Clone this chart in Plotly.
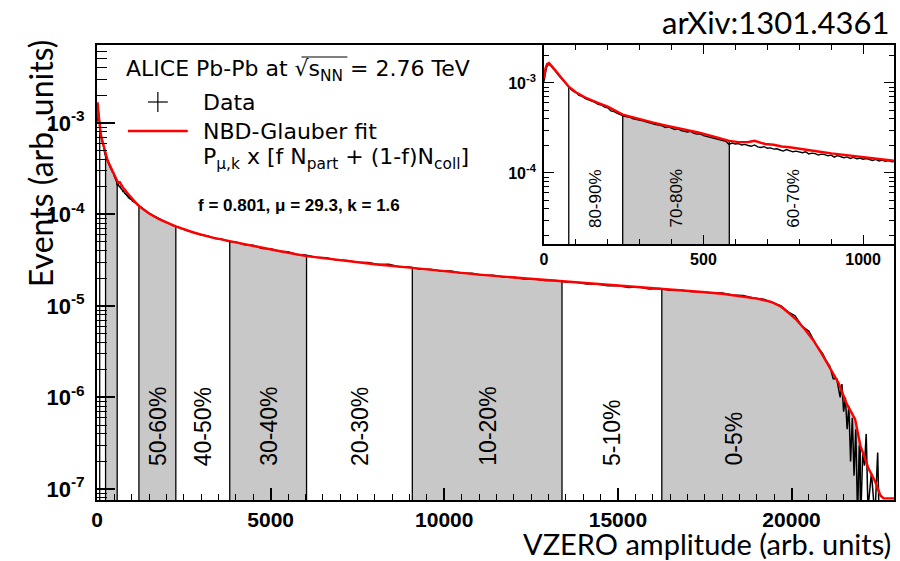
import plotly.graph_objects as go

# ---------------- data ----------------
data_x = [0, 4, 8, 12, 16, 20, 26, 32, 38, 44, 50, 56, 62, 70, 78, 86, 94, 102, 110, 120,
          130, 140, 150, 160, 170, 180, 190, 200, 210, 220, 230, 240, 250, 260, 270, 280,
          290, 300, 310, 320, 330, 340, 350, 360, 370, 380, 390, 400, 410, 420, 430, 440,
          450, 460, 470, 480, 490, 500, 510, 520, 530, 540, 550, 560, 570, 580, 590, 600,
          610, 620, 630, 640, 650, 660, 670, 680, 690, 700, 710, 720, 730, 740, 750, 760,
          770, 780, 790, 800, 810, 820, 830, 840, 850, 860, 870, 880, 890, 900, 910, 920,
          930, 940, 950, 960, 970, 980, 990, 1000, 1010, 1020, 1030, 1040, 1050, 1060, 1070,
          1080, 1090, 1100,
          1150, 1300, 1450, 1600, 1750, 1900, 2050, 2200, 2400, 2600, 2800, 3000, 3200, 3400,
          3600, 3800, 4000, 4250, 4500, 4750, 5000, 5250, 5500, 5750, 6000, 6300, 6600, 6900,
          7200, 7500, 7800, 8100, 8400, 8700, 9000, 9300, 9600, 9900, 10200, 10500, 10800,
          11100, 11400, 11700, 12000, 12300, 12600, 12900, 13200, 13500, 13800, 14100, 14400,
          14700, 15000, 15300, 15600, 15900, 16200, 16500, 16800, 17100, 17400, 17700, 18000,
          18300, 18600, 18900, 19200, 19500, 19700, 19900, 20100, 20300, 20500, 20700, 20900,
          21000, 21100, 21200, 21300, 21400, 21450, 21500, 21550, 21600, 21650, 21700, 21750,
          21800, 21850, 21900, 21950, 22000, 22050, 22100, 22150, 22200, 22300, 22400, 22480,
          22520]
data_y = [1.03e-3, 1.30e-3, 1.48e-3, 1.58e-3, 1.62e-3, 1.58e-3, 1.50e-3, 1.41e-3, 1.33e-3,
          1.24e-3, 1.17e-3, 1.12e-3, 1.05e-3, 9.7e-4, 8.9e-4, 8.4e-4, 8.0e-4, 7.8e-4, 7.3e-4,
          7.1e-4, 6.7e-4, 6.5e-4, 6.2e-4, 6.1e-4, 5.8e-4, 5.7e-4, 5.4e-4, 5.3e-4, 4.9e-4,
          4.8e-4, 4.6e-4, 4.4e-4, 4.3e-4, 4.2e-4, 4.15e-4, 4.0e-4, 3.95e-4, 3.85e-4, 3.8e-4,
          3.7e-4, 3.6e-4, 3.55e-4, 3.45e-4, 3.4e-4, 3.35e-4, 3.2e-4, 3.25e-4, 3.15e-4, 3.05e-4,
          3.1e-4, 2.95e-4, 2.9e-4, 2.85e-4, 2.9e-4, 2.75e-4, 2.7e-4, 2.72e-4, 2.6e-4, 2.55e-4,
          2.5e-4, 2.45e-4, 2.4e-4, 2.38e-4, 2.3e-4, 2.25e-4, 2.08e-4, 2.15e-4, 2.1e-4, 2.12e-4,
          2.05e-4, 2.08e-4, 2.02e-4, 1.98e-4, 2.05e-4, 1.95e-4, 1.92e-4, 1.96e-4, 1.88e-4,
          1.9e-4, 1.84e-4, 1.86e-4, 1.8e-4, 1.75e-4, 1.82e-4, 1.76e-4, 1.72e-4, 1.75e-4, 1.7e-4,
          1.68e-4, 1.72e-4, 1.63e-4, 1.66e-4, 1.64e-4, 1.58e-4, 1.62e-4, 1.6e-4, 1.55e-4,
          1.58e-4, 1.5e-4, 1.56e-4, 1.52e-4, 1.48e-4, 1.51e-4, 1.45e-4, 1.49e-4, 1.44e-4,
          1.46e-4, 1.42e-4, 1.45e-4, 1.4e-4, 1.38e-4, 1.42e-4, 1.36e-4, 1.39e-4, 1.35e-4,
          1.37e-4, 1.33e-4, 1.35e-4,
          1.30e-4, 1.17e-4, 1.06e-4, 9.8e-5, 9.2e-5, 8.5e-5, 8.1e-5, 7.5e-5, 7.1e-5, 6.6e-5,
          6.35e-5, 5.95e-5, 5.8e-5, 5.45e-5, 5.35e-5, 5.05e-5, 5.0e-5, 4.65e-5, 4.6e-5, 4.25e-5,
          4.2e-5, 3.95e-5, 3.9e-5, 3.65e-5, 3.6e-5, 3.4e-5, 3.35e-5, 3.18e-5, 3.14e-5, 3.0e-5,
          2.98e-5, 2.84e-5, 2.85e-5, 2.68e-5, 2.66e-5, 2.52e-5, 2.52e-5, 2.4e-5, 2.4e-5, 2.27e-5,
          2.27e-5, 2.16e-5, 2.16e-5, 2.07e-5, 2.05e-5, 1.97e-5, 1.97e-5, 1.89e-5, 1.9e-5,
          1.82e-5, 1.81e-5, 1.73e-5, 1.74e-5, 1.66e-5, 1.67e-5, 1.59e-5, 1.61e-5, 1.53e-5,
          1.55e-5, 1.48e-5, 1.49e-5, 1.44e-5, 1.43e-5, 1.38e-5, 1.38e-5, 1.32e-5, 1.3e-5,
          1.22e-5, 1.18e-5, 1.06e-5, 1.0e-5, 8.6e-6, 7.8e-6, 6.0e-6, 5.3e-6, 3.8e-6, 3.0e-6,
          2.5e-6, 2.2e-6, 1.6e-6, 1.6e-6, 1.0e-6, 1.4e-6, 7e-7, 1.0e-6, 4.5e-7, 8e-7, 2.0e-7,
          6e-7, 1.4e-7, 4.5e-7, 5e-8, 3e-7, 6e-8, 2.5e-7, 1.8e-7, 4e-7, 6e-8, 1.5e-7, 5e-8,
          2.5e-7, 5e-8]

fit_x = [0, 5, 10, 16, 26, 42, 62, 78, 100, 130, 169, 200, 247, 300, 340, 380, 432, 484, 536,
         581, 610, 641, 660, 693, 720, 745, 770, 797, 820, 849, 875, 901, 930, 953, 980, 1005,
         1030, 1060, 1100, 1207, 1500, 1800, 2270, 2800, 3300, 3822, 4500, 5200, 6034, 7000,
         8000, 9080, 10000, 11000, 12200, 13390, 14500, 15400, 16264, 17000, 17520, 18000,
         18477, 19000, 19435, 19700, 19914, 20150, 20393, 20630, 20871, 21100, 21350, 21590,
         21830, 21980, 22100, 22210, 22410, 22560, 22650, 22950]
fit_y = [1.12e-3, 1.45e-3, 1.62e-3, 1.67e-3, 1.52e-3, 1.29e-3, 1.06e-3, 9.1e-4, 7.9e-4,
         6.9e-4, 6.0e-4, 5.45e-4, 4.45e-4, 3.95e-4, 3.65e-4, 3.38e-4, 3.08e-4, 2.82e-4,
         2.52e-4, 2.27e-4, 2.2e-4, 2.21e-4, 2.28e-4, 2.1e-4, 2.06e-4, 1.97e-4, 1.93e-4,
         1.86e-4, 1.82e-4, 1.75e-4, 1.7e-4, 1.65e-4, 1.6e-4, 1.57e-4, 1.53e-4, 1.49e-4,
         1.46e-4, 1.42e-4, 1.36e-4, 1.23e-4, 1.02e-4, 8.8e-5, 7.4e-5, 6.3e-5, 5.6e-5, 5.1e-5,
         4.5e-5, 4.0e-5, 3.5e-5, 3.15e-5, 2.85e-5, 2.6e-5, 2.4e-5, 2.2e-5, 2.02e-5, 1.87e-5,
         1.72e-5, 1.62e-5, 1.53e-5, 1.46e-5, 1.41e-5, 1.36e-5, 1.29e-5, 1.2e-5, 1.1e-5,
         9.8e-6, 8.4e-6, 7.0e-6, 5.5e-6, 4.2e-6, 3.0e-6, 2.1e-6, 1.45e-6, 8.5e-7, 5.8e-7,
         3.0e-7, 2.2e-7, 1.7e-7, 1.2e-7, 8.5e-8, 7.9e-8, 7.9e-8]

boundaries = [78, 247, 581, 1207, 2270, 3822, 6034, 9080, 13390, 16264, 21980]
gray_bands = [(247, 581), (1207, 2270), (3822, 6034), (9080, 13390), (16264, 21980)]

main_labels = ["50-60%", "40-50%", "30-40%", "20-30%", "10-20%", "5-10%", "0-5%"]
main_label_x = [1740, 3046, 4930, 7560, 11235, 14830, 18330]
inset_labels = ["80-90%", "70-80%", "60-70%"]
inset_label_x = [162, 414, 781]

main_xrange = [0, 22950]
main_yrange = [-7.12, -2.15]      # log10
inset_xrange = [0, 1097]
inset_yrange = [-4.789, -2.578]   # log10

decades_main = [1e-7, 1e-6, 1e-5, 1e-4, 1e-3]
decade_text_main = ["10<sup>-7</sup>", "10<sup>-6</sup>", "10<sup>-5</sup>",
                    "10<sup>-4</sup>", "10<sup>-3</sup>"]
decades_inset = [1e-4, 1e-3]
decade_text_inset = ["10<sup>-4</sup>", "10<sup>-3</sup>"]

# ---------------- geometry helpers (layout only) ----------------
W, H = 900, 561
L, R, T, B = 97, 896, 45, 500


def pxx(px):
    return (px - L) / (R - L)


def pxy(py):
    return (B - py) / (B - T)


minor_main = [m * 10.0 ** e for e in range(-8, -1) for m in range(2, 10)]
minor_inset = [m * 10.0 ** e for e in range(-5, -1) for m in range(2, 10)]

GRAY = "#c8c8c8"
fig = go.Figure()


def add_bands(xa, ya, ybot, bands, bnds):
    for (x0, x1) in bands:
        pts = [(x, y) for x, y in zip(fit_x, fit_y) if x0 <= x <= x1]
        xs = [p[0] for p in pts] + [x1, x0]
        ys = [p[1] for p in pts] + [ybot, ybot]
        fig.add_trace(go.Scatter(x=xs, y=ys, fill="toself", fillcolor=GRAY, mode="lines",
                                 line=dict(width=0), hoverinfo="skip", showlegend=False,
                                 xaxis=xa, yaxis=ya))
    bx, by = [], []
    for b in bnds:
        bx += [b, b, None]
        by += [ybot, fit_y[fit_x.index(b)], None]
    fig.add_trace(go.Scatter(x=bx, y=by, mode="lines", line=dict(color="black", width=1.3),
                             hoverinfo="skip", showlegend=False, xaxis=xa, yaxis=ya))


# main plot
ybot_main = 10 ** (main_yrange[0] - 1)
add_bands("x", "y", ybot_main, gray_bands, boundaries)
fig.add_trace(go.Scatter(x=data_x, y=data_y, mode="lines", line=dict(color="black", width=1.5),
                         showlegend=False, xaxis="x", yaxis="y"))
fig.add_trace(go.Scatter(x=fit_x, y=fit_y, mode="lines", line=dict(color="#ff0000", width=2.4),
                         showlegend=False, xaxis="x", yaxis="y"))

# inset: white cover, bands, curves
fig.add_trace(go.Scatter(x=[inset_xrange[0], inset_xrange[1], inset_xrange[1], inset_xrange[0]],
                         y=[10 ** inset_yrange[0], 10 ** inset_yrange[0], 10 ** inset_yrange[1], 10 ** inset_yrange[1]],
                         fill="toself", fillcolor="white", mode="lines", line=dict(width=0),
                         hoverinfo="skip", showlegend=False, xaxis="x2", yaxis="y2"))
ybot_inset = 10 ** (inset_yrange[0] - 1)
add_bands("x2", "y2", ybot_inset, [gray_bands[0]], boundaries[:4])
fig.add_trace(go.Scatter(x=data_x, y=data_y, mode="lines", line=dict(color="black", width=1.4),
                         showlegend=False, xaxis="x2", yaxis="y2"))
fig.add_trace(go.Scatter(x=fit_x, y=fit_y, mode="lines", line=dict(color="#ff0000", width=2.4),
                         showlegend=False, xaxis="x2", yaxis="y2"))

tick_font = dict(family="Liberation Sans, Arial", size=21, color="black", weight="bold")
tick_font_small = dict(family="Liberation Sans, Arial", size=16, color="black", weight="bold")

inset_x0 = pxx(545)
inset_y0 = pxy(244)
part_x = pxx(505)
part_y = pxy(280)

fig.update_layout(
    width=W, height=H, autosize=False,
    margin=dict(l=L, r=W - R, t=T, b=H - B),
    paper_bgcolor="white", plot_bgcolor="rgba(0,0,0,0)",
    showlegend=False,
    xaxis=dict(domain=[0, 1], anchor="y", range=main_xrange, showgrid=False, zeroline=False,
               showline=True, linecolor="black", linewidth=2, mirror=True,
               ticks="inside", ticklen=12, tickwidth=1.5, tickcolor="black", dtick=5000, tick0=0,
               tickformat="d",
               minor=dict(ticks="inside", ticklen=6, tickwidth=1.2, tickcolor="black", dtick=500),
               tickfont=tick_font, ticklabelstandoff=0),
    yaxis=dict(domain=[0, 1], anchor="x", type="log", range=main_yrange, showgrid=False, zeroline=False,
               showline=True, linecolor="black", linewidth=2, mirror=True,
               ticks="inside", ticklen=18, tickwidth=1.5, tickcolor="black",
               tickmode="array", tickvals=decades_main, ticktext=decade_text_main,
               minor=dict(ticks="inside", ticklen=10, tickwidth=1.2, tickcolor="black",
                          tickmode="array", tickvals=minor_main),
               tickfont=dict(family="Liberation Sans, Arial", size=22, color="black", weight="bold"),
               ticklabelstandoff=6),
    xaxis2=dict(domain=[inset_x0, 1], anchor="y2", range=inset_xrange, showgrid=False, zeroline=False,
                showline=True, linecolor="black", linewidth=1.6, mirror="allticks",
                ticks="inside", ticklen=9, tickwidth=1.2, tickcolor="black", dtick=500, tick0=0,
                tickformat="d",
                minor=dict(ticks="inside", ticklen=5, tickwidth=1, tickcolor="black", dtick=100),
                tickfont=tick_font_small, ticklabelstandoff=0),
    yaxis2=dict(domain=[inset_y0, 1], anchor="x2", type="log", range=inset_yrange, showgrid=False,
                zeroline=False, showline=True, linecolor="black", linewidth=1.6, mirror="allticks",
                ticks="inside", ticklen=10, tickwidth=1.2, tickcolor="black",
                tickmode="array", tickvals=decades_inset, ticktext=decade_text_inset,
                minor=dict(ticks="inside", ticklen=5, tickwidth=1, tickcolor="black",
                           tickmode="array", tickvals=minor_inset),
                tickfont=tick_font_small, ticklabelstandoff=3),
    xaxis3=dict(domain=[0, part_x], anchor="y", side="top", range=[0, main_xrange[1] * part_x],
                showgrid=False, zeroline=False, showline=False, showticklabels=False,
                ticks="inside", ticklen=12, tickwidth=1.5, tickcolor="black", dtick=5000, tick0=0,
                minor=dict(ticks="inside", ticklen=6, tickwidth=1.2, tickcolor="black", dtick=500)),
    yaxis3=dict(domain=[0, part_y], anchor="x", side="right", type="log",
                range=[main_yrange[0], main_yrange[0] + part_y * (main_yrange[1] - main_yrange[0])],
                showgrid=False, zeroline=False, showline=False, showticklabels=False,
                ticks="inside", ticklen=18, tickwidth=1.5, tickcolor="black",
                tickmode="array", tickvals=decades_main,
                minor=dict(ticks="inside", ticklen=10, tickwidth=1.2, tickcolor="black",
                           tickmode="array", tickvals=minor_main)),
)

ann = []
band_font = dict(family="Liberation Sans, Arial", size=23, color="black")
for t, x in zip(main_labels, main_label_x):
    ann.append(dict(text=t, x=x, xref="x", y=pxy(468), yref="paper", textangle=-90,
                    xanchor="center", yanchor="bottom", showarrow=False, font=band_font))
inset_font = dict(family="Liberation Sans, Arial", size=17, color="black")
for t, x in zip(inset_labels, inset_label_x):
    ann.append(dict(text=t, x=x, xref="x2", y=pxy(230), yref="paper", textangle=-90,
                    xanchor="center", yanchor="bottom", showarrow=False, font=inset_font))

leg_font = dict(family="DejaVu Sans", size=22, color="black")
ann += [
    dict(text="ALICE Pb-Pb at √s<sub>NN</sub> = 2.76 TeV", x=pxx(124), y=pxy(70), xref="paper", yref="paper",
         xanchor="left", yanchor="middle", showarrow=False, font=leg_font),
    dict(text="Data", x=pxx(201), y=pxy(102), xref="paper", yref="paper",
         xanchor="left", yanchor="middle", showarrow=False, font=leg_font),
    dict(text="NBD-Glauber fit", x=pxx(201), y=pxy(131), xref="paper", yref="paper",
         xanchor="left", yanchor="middle", showarrow=False, font=leg_font),
    dict(text="P<sub>μ,k</sub> x [f N<sub>part</sub> + (1-f)N<sub>coll</sub>]", x=pxx(201), y=pxy(158),
         xref="paper", yref="paper", xanchor="left", yanchor="middle", showarrow=False, font=leg_font),
    dict(text="f = 0.801, μ = 29.3, k = 1.6", x=pxx(196), y=pxy(206), xref="paper", yref="paper",
         xanchor="left", yanchor="middle", showarrow=False,
         font=dict(family="Liberation Sans, Arial", size=17, color="black", weight="bold")),
    dict(text="Events (arb. units)", x=pxx(40), y=pxy(163), xref="paper", yref="paper", textangle=-90,
         xanchor="center", yanchor="middle", showarrow=False,
         font=dict(family="Lato", size=32, color="black")),
    dict(text="VZERO amplitude (arb. units)", x=pxx(894), y=pxy(543), xref="paper", yref="paper",
         xanchor="right", yanchor="middle", showarrow=False, borderpad=0,
         font=dict(family="Lato", size=29, color="black")),
    dict(text="arXiv:1301.4361", x=pxx(894), y=pxy(22), xref="paper", yref="paper",
         xanchor="right", yanchor="middle", showarrow=False,
         font=dict(family="Lato", size=31, color="black")),
]
fig.update_layout(annotations=ann)

fig.update_layout(shapes=[
    dict(type="line", xref="paper", yref="paper", x0=pxx(148), x1=pxx(168), y0=pxy(102), y1=pxy(102),
         line=dict(color="black", width=1.2)),
    dict(type="line", xref="paper", yref="paper", x0=pxx(158), x1=pxx(158), y0=pxy(92), y1=pxy(112),
         line=dict(color="black", width=1.2)),
    dict(type="line", xref="paper", yref="paper", x0=pxx(128), x1=pxx(188), y0=pxy(131), y1=pxy(131),
         line=dict(color="#ff0000", width=2.6)),
    dict(type="line", xref="paper", yref="paper", x0=pxx(302), x1=pxx(348), y0=pxy(57), y1=pxy(57),
         line=dict(color="black", width=1.2)),
])

fig.write_html("out.html", config={"displayModeBar": False},
               post_script="document.body.style.margin='0';")
